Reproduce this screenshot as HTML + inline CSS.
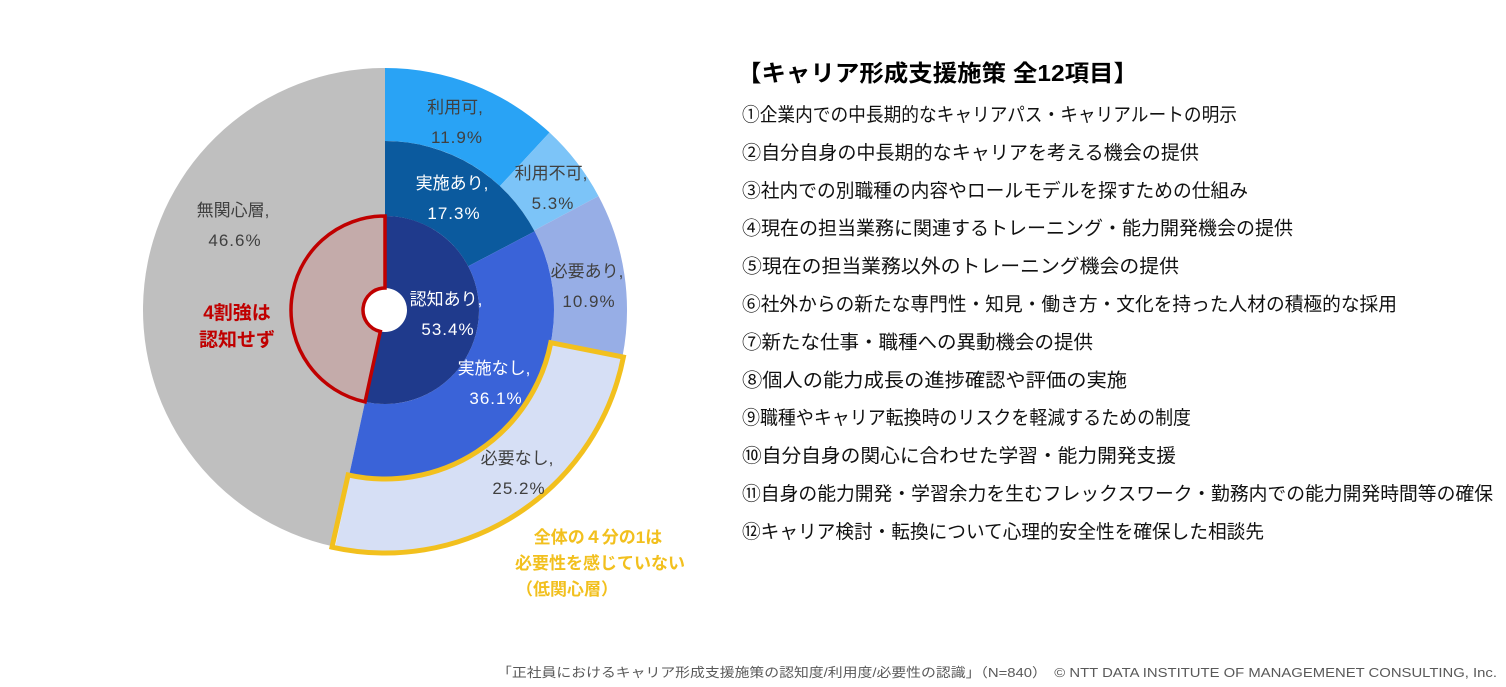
<!DOCTYPE html>
<html><head><meta charset="utf-8"><style>
html,body{margin:0;padding:0;background:#fff;}
svg{display:block;font-family:"Liberation Sans","Noto Sans CJK JP",sans-serif;}
</style></head><body>
<svg id="c" width="1506" height="687" viewBox="0 0 1506 687">
<g id="rings"></g>
<g id="labels"></g>
<g id="list"></g>
</svg>
<script>
// data
const innerCats = ["認知あり","認知なし"];
const innerVals = [53.4, 46.6];
const midCats = ["実施あり","実施なし"];
const midVals = [17.3, 36.1];
const outerCats = ["利用可","利用不可","必要あり","必要なし"];
const outerVals = [11.9, 5.3, 10.9, 25.2];
const unawareLabel = "無関心層";
const unawareVal = 46.6;
const items = ["①企業内での中長期的なキャリアパス・キャリアルートの明示","②自分自身の中長期的なキャリアを考える機会の提供","③社内での別職種の内容やロールモデルを探すための仕組み","④現在の担当業務に関連するトレーニング・能力開発機会の提供","⑤現在の担当業務以外のトレーニング機会の提供","⑥社外からの新たな専門性・知見・働き方・文化を持った人材の積極的な採用","⑦新たな仕事・職種への異動機会の提供","⑧個人の能力成長の進捗確認や評価の実施","⑨職種やキャリア転換時のリスクを軽減するための制度","⑩自分自身の関心に合わせた学習・能力開発支援","⑪自身の能力開発・学習余力を生むフレックスワーク・勤務内での能力開発時間等の確保","⑫キャリア検討・転換について心理的安全性を確保した相談先"];
const itemEnds = [1237,1199,1248,1293,1179,1397,1093,1127,1191,1176,1493,1264];

const NS="http://www.w3.org/2000/svg";
const cx=385, cy=310, r0=22, r1=94, r2=169, r3=242;
function ang(p){return p/100*2*Math.PI;}
function pt(r,a){return [cx+r*Math.sin(a), cy-r*Math.cos(a)];}
function arc(ri,ro,a0,a1){
  const l=(a1-a0)>Math.PI?1:0;
  const [x0,y0]=pt(ro,a0),[x1,y1]=pt(ro,a1),[x2,y2]=pt(ri,a1),[x3,y3]=pt(ri,a0);
  return `M${x0},${y0}A${ro},${ro} 0 ${l} 1 ${x1},${y1}L${x2},${y2}A${ri},${ri} 0 ${l} 0 ${x3},${y3}Z`;
}
function mk(tag,attrs,parent){const e=document.createElementNS(NS,tag);for(const k in attrs)e.setAttribute(k,attrs[k]);parent.appendChild(e);return e;}
const rings=document.getElementById('rings');
const aw=innerVals[0];
let g=mk('path',{d:arc(r1,r3,ang(aw),ang(100)),fill:'#bfbfbf'},rings);


const outerCols=['#29a3f5','#7cc4f8','#97aee6','#d6dff5'];
let acc=0;
outerVals.forEach((v,i)=>{
  const e=mk('path',{d:arc(r2,r3,ang(acc),ang(acc+v)),fill:outerCols[i]},rings);
  
  
  acc+=v;
});
const midCols=['#0b5a9e','#3a63d8'];
acc=0;
midVals.forEach((v,i)=>{
  const e=mk('path',{d:arc(r1,r2,ang(acc),ang(acc+v)),fill:midCols[i]},rings);
  
  
  acc+=v;
});
const innerCols=['#1f3a8c','#c4abaa'];
acc=0;
innerVals.forEach((v,i)=>{
  const e=mk('path',{d:arc(r0,r1,ang(acc),ang(acc+v)),fill:innerCols[i]},rings);
  
  
  if(i===1){e.setAttribute('stroke','#c00000');e.setAttribute('stroke-width','3.5');}
  acc+=v;
});
const s0=outerVals.slice(0,3).reduce((a,b)=>a+b,0), s1=s0+outerVals[3];
let hl=mk('path',{d:arc(r2,r3+1,ang(s0),ang(s1+0.2)),fill:'none',stroke:'#f2c01e','stroke-width':5,'stroke-linejoin':'miter'},rings);



const L=document.getElementById('labels');
function txt(x,y,s,opt,name){
  const e=mk('text',Object.assign({x:x,y:y,'text-anchor':'middle','font-size':17,fill:'#404040'},opt||{}),L);
  e.textContent=s;
  
  
  return e;
}
function pair(x,y,cat,val,col,name){
  txt(x,y,cat+",",{fill:col},name+'-label');
  txt(x+2,y+30,val.toFixed(1)+"%",{fill:col,'letter-spacing':'1'},name+'-value');
}
pair(455,113,outerCats[0],outerVals[0],'#404040','outer-1');
pair(551,179,outerCats[1],outerVals[1],'#404040','outer-2');
pair(587,277,outerCats[2],outerVals[2],'#404040','outer-3');
pair(517,464,outerCats[3],outerVals[3],'#404040','outer-4');
pair(452,189,midCats[0],midVals[0],'#ffffff','middle-1');
pair(494,374,midCats[1],midVals[1],'#ffffff','middle-2');
pair(446,305,innerCats[0],innerVals[0],'#ffffff','inner-1');
pair(233,216,unawareLabel,unawareVal,'#404040','unaware');
txt(237,319,"4割強は",{fill:'#c00000','font-weight':'bold','font-size':19},'unaware-note-1');
txt(237,346,"認知せず",{fill:'#c00000','font-weight':'bold','font-size':19},'unaware-note-2');
txt(598,543,"全体の４分の1は",{fill:'#f2c01e','font-weight':'bold','font-size':17},'low-interest-note-1');
txt(600,569,"必要性を感じていない",{fill:'#f2c01e','font-weight':'bold','font-size':17},'low-interest-note-2');
txt(567,595,"（低関心層）",{fill:'#f2c01e','font-weight':'bold','font-size':17},'low-interest-note-3');

const LI=document.getElementById('list');
let t=mk('text',{x:737,y:81,'font-size':23,'font-weight':'bold',fill:'#000',textLength:401,lengthAdjust:'spacingAndGlyphs'},LI);
t.textContent="【キャリア形成支援施策  全12項目】";


items.forEach((s,i)=>{
  const e=mk('text',{x:742,y:121+i*37.9,'font-size':19,fill:'#111'},LI);
  e.textContent=s;
  
  
  e.setAttribute('textLength',String(itemEnds[i]-742));
  e.setAttribute('lengthAdjust','spacingAndGlyphs');
});
let f=mk('text',{x:1497,y:677,'font-size':13,fill:'#595959','text-anchor':'end',textLength:1000,lengthAdjust:'spacingAndGlyphs'},LI);
f.textContent="「正社員におけるキャリア形成支援施策の認知度/利用度/必要性の認識」（N=840）　© NTT DATA INSTITUTE OF MANAGEMENET CONSULTING, Inc.";


</script>
</body></html>
